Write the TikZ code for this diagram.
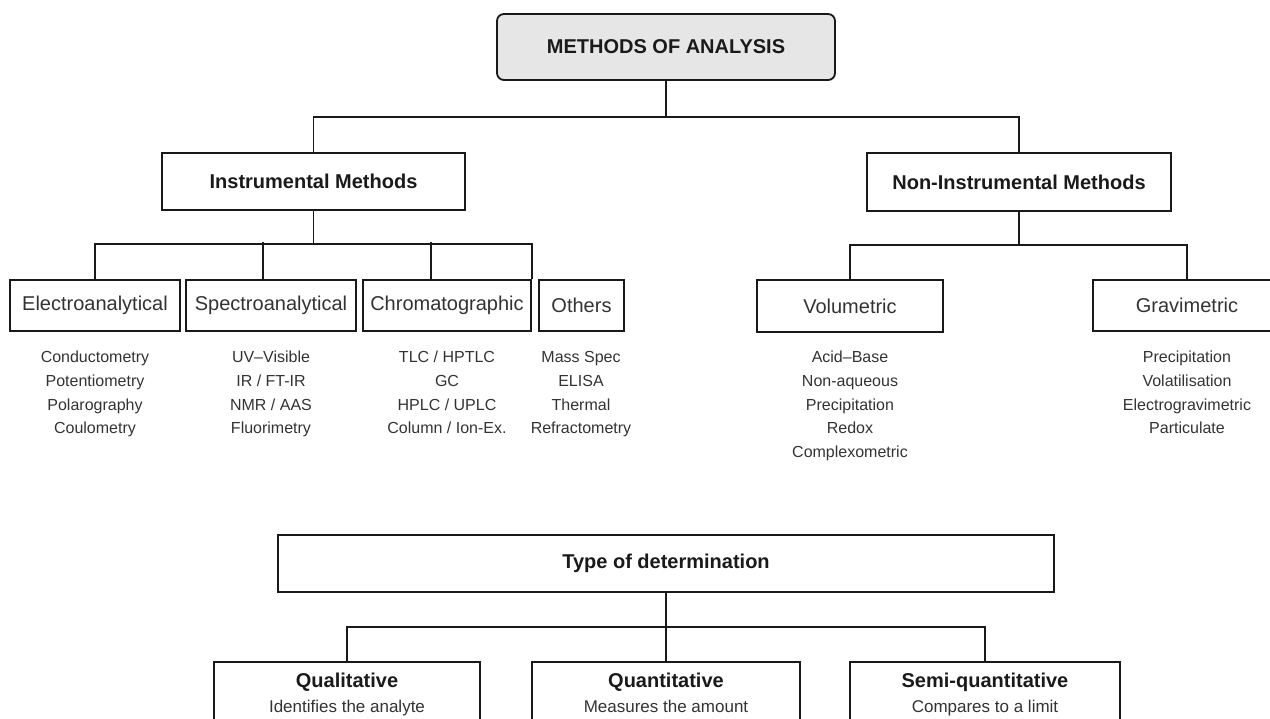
\documentclass[tikz,border=0pt]{standalone}
\usepackage{fontspec}
\setmainfont{Liberation Sans}
\usetikzlibrary{shadows}
\definecolor{txt}{HTML}{333333}
\definecolor{ttl}{HTML}{1A1A1A}
\definecolor{topfill}{HTML}{E6E6E6}
\begin{document}
\begin{tikzpicture}[x=1pt,y=-1pt,
  boxbase/.style={draw=black!90, line width=1.8pt, fill=white, inner sep=0pt,
    drop shadow={shadow xshift=0.8pt, shadow yshift=-0.8pt, opacity=0.35}},
  catbox/.style={boxbase, font=\fontsize{20}{24}\selectfont, text=txt},
  mainbox/.style={boxbase, font=\fontsize{20}{24}\selectfont\bfseries, text=ttl},
  topbox/.style={mainbox, rounded corners=7pt, fill=topfill},
  item/.style={font=\fontsize{16}{19}\selectfont, text=txt, anchor=base, inner sep=0pt},
  dtitle/.style={font=\fontsize{20}{24}\selectfont\bfseries, text=ttl, anchor=base, inner sep=0pt},
  dsub/.style={font=\fontsize{17}{20}\selectfont, text=txt, anchor=base, inner sep=0pt},
  conn/.style={draw=black!90, line width=1.5pt}]
\useasboundingbox (0,0) rectangle (1270,719);
\clip (0,0) rectangle (1270,719);

% top
\node[topbox, minimum width=338pt, minimum height=66pt] (top) at (666,47) {METHODS OF ANALYSIS};
\node[mainbox, minimum width=303pt, minimum height=57pt] (inst) at (313.5,181.5) {Instrumental Methods};
\node[mainbox, minimum width=304pt, minimum height=58pt] (non) at (1019,182) {Non-Instrumental Methods};

% categories
\node[catbox, minimum width=170pt, minimum height=51pt] (elec) at (95,305.5) {Electroanalytical};
\node[catbox, minimum width=170pt, minimum height=51pt] (spec) at (271,305.5) {Spectroanalytical};
\node[catbox, minimum width=168pt, minimum height=51pt] (chrom) at (447,305.5) {Chromatographic};
\node[catbox, minimum width=85pt, minimum height=51pt] (oth) at (581.5,305.5) {Others};
\node[catbox, minimum width=186pt, minimum height=52pt] (vol) at (850,306) {Volumetric};
\node[catbox, minimum width=188pt, minimum height=51pt] (grav) at (1187,305.5) {Gravimetric};

% lists
\foreach \t [count=\i] in {Conductometry,Potentiometry,Polarography,Coulometry}
  \node[item] (el\i) at (95,{363+23.5*(\i-1)}) {\t};
\foreach \t [count=\i] in {UV–Visible,IR / FT-IR,NMR / AAS,Fluorimetry}
  \node[item] (sp\i) at (271,{363+23.5*(\i-1)}) {\t};
\foreach \t [count=\i] in {TLC / HPTLC,GC,HPLC / UPLC,Column / Ion-Ex.}
  \node[item] (ch\i) at (447,{363+23.5*(\i-1)}) {\t};
\foreach \t [count=\i] in {Mass Spec,ELISA,Thermal,Refractometry}
  \node[item] (ot\i) at (581,{363+23.5*(\i-1)}) {\t};
\foreach \t [count=\i] in {Acid–Base,Non-aqueous,Precipitation,Redox,Complexometric}
  \node[item] (vo\i) at (850,{363+23.5*(\i-1)}) {\t};
\foreach \t [count=\i] in {Precipitation,Volatilisation,Electrogravimetric,Particulate}
  \node[item] (gr\i) at (1187,{363+23.5*(\i-1)}) {\t};

% type of determination
\node[mainbox, minimum width=776pt, minimum height=57pt] (type) at (666,563.5) {Type of determination};
\node[boxbase, minimum width=266pt, minimum height=98pt] (qual) at (347,711) {};
\node[boxbase, minimum width=268pt, minimum height=98pt] (quant) at (666,711) {};
\node[boxbase, minimum width=270pt, minimum height=98pt] (semi) at (985,711) {};
\node[dtitle] (qualt) at (347,687) {Qualitative};
\node[dsub] (quals) at (347,712) {Identifies the analyte};
\node[dtitle] (quantt) at (666,687) {Quantitative};
\node[dsub] (quants) at (666,712) {Measures the amount};
\node[dtitle] (semit) at (985,687) {Semi-quantitative};
\node[dsub] (semis) at (985,712) {Compares to a limit};

% connectors
\draw[conn] (top.south) -- ++(0,36) coordinate (j1);
\draw[conn] (inst.north) |- (j1) -| (non.north);
\draw[conn] (inst.south) -- ++(0,33) coordinate (j2);
\draw[conn] (elec.north) |- (j2) -| (chrom.north east);
\draw[conn] ([xshift=-8pt]spec.north) -- ++(0,-37);
\draw[conn] ([xshift=-16pt]chrom.north) -- ++(0,-37);
\draw[conn] (non.south) -- ++(0,33) coordinate (j3);
\draw[conn] (vol.north) |- (j3) -| (grav.north);
\draw[conn] (type.south) -- ++(0,34) coordinate (j4);
\draw[conn] (qual.north) |- (j4) -| (semi.north);
\draw[conn] (j4) -- (quant.north);
\end{tikzpicture}
\end{document}
